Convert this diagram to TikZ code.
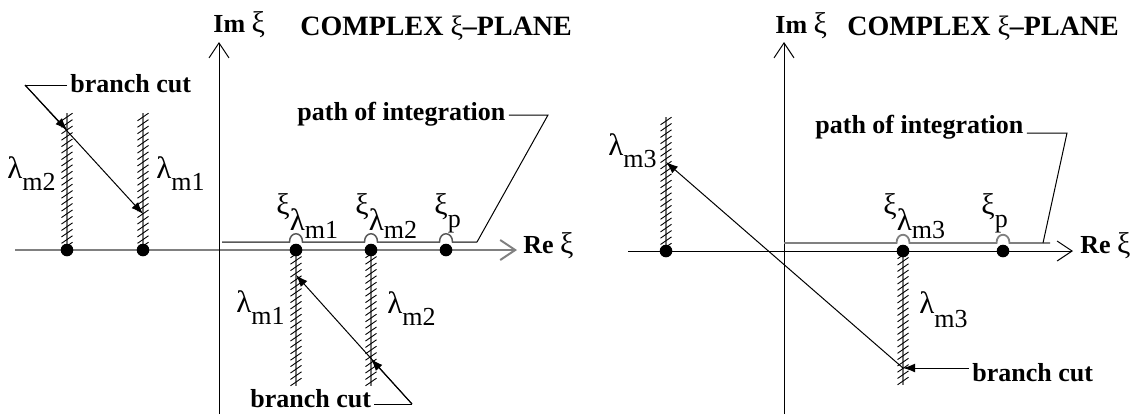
\documentclass[tikz,border=0pt]{standalone}
\usepackage{fontspec}
\setmainfont{Liberation Serif}
\usetikzlibrary{arrows.meta}
\newcommand{\biglam}{{\fontsize{15.5}{17}\selectfont λ}}
\newcommand{\bigxi}{{\fontsize{15}{17}\selectfont ξ}}

\begin{document}
\begin{tikzpicture}[x=0.5pt, y=-0.5pt, font=\fontsize{13}{15}\selectfont,
  axis/.style={line width=0.5pt, -{Straight Barb[length=7.5pt,width=10pt]}},
  dot/.style={circle, fill, inner sep=0pt, minimum size=6.3pt},
  lead/.style={line width=0.5pt},
  pointer/.style={line width=0.5pt, -{Latex[length=6pt,width=4.4pt]}},
  cutline/.style={black!55, line width=0.6pt},
  hatch/.style={line width=0.45pt},
  intpath/.style={black!65, line width=0.75pt},
  lbl/.style={font=\fontsize{13}{15}\selectfont\bfseries, inner xsep=1.5pt, inner ysep=0pt},
  title/.style={font=\fontsize{14}{16}\selectfont\bfseries, inner sep=0pt},
  sym/.style={inner sep=0pt}]
  \useasboundingbox (0,0) rectangle (1135,414);

  % left plane: axes and titles
  \node[title, anchor=base west] (ttlA) at (300,35) {COMPLEX {\mdseries ξ}–PLANE};
  \node[sym, anchor=base west] (imA) at (213,32) {\textbf{Im} \bigxi};
  \node[sym, anchor=base west] (reA) at (523,253) {\textbf{Re} \bigxi};
  \coordinate (reA0) at (15,250); \coordinate (imA0) at (219,414); \coordinate (imA1) at (219,42);
  \draw[axis, black!50, line width=1pt] (reA0) -- ([xshift=-3pt]reA0 -| reA.west);
  \draw[axis] (imA0) -- (imA1);

  % right plane: axes and titles
  \node[title, anchor=base west] (ttlB) at (847,35) {COMPLEX {\mdseries ξ}–PLANE};
  \node[sym, anchor=base west] (imB) at (775,33) {\textbf{Im} \bigxi};
  \node[sym, anchor=base west] (reB) at (1080,253) {\textbf{Re} \bigxi};
  \coordinate (reB0) at (628,251); \coordinate (imB0) at (784,414); \coordinate (imB1) at (784,42);
  \draw[axis] (reB0) -- ([xshift=-3.5pt]reB0 -| reB.west);
  \draw[axis] (imB0) -- (imB1);

  % hatched branch cuts
  \foreach \cx/\ca/\cb in {67/113/250, 143/113/250, 296/250/386, 371/250/386, 666/117/251, 903/251/385} {
    \draw[cutline] (\cx,\ca) -- (\cx,\cb);
    \foreach \k in {0,...,20}
      \draw[hatch] ({\cx-5.5},{\ca+4+\k*(\cb-\ca-8)/20+3.8}) -- ({\cx+5.5},{\ca+4+\k*(\cb-\ca-8)/20-3.8});
  }

  % branch points and poles
  \foreach \n/\px in {l1/67, l2/143, l3/296, l4/371, l5/446} \node[dot] (\n) at (\px,250) {};
  \foreach \n/\px in {r1/666, r2/903, r3/1003} \node[dot] (\n) at (\px,251) {};

  % paths of integration with indentations
  \coordinate (eA) at (477,242); \coordinate (eB) at (1050,243);
  \draw[intpath] (222,242) \foreach \bx in {296,371,446} {
    -- (\bx-6.5,242) .. controls (\bx-6.5,231) and (\bx+6.5,231) .. (\bx+6.5,242) } -- (eA);
  \draw[intpath, black!50, line width=0.9pt] (784,243) \foreach \bx in {903,1003} {
    -- (\bx-6.5,243) .. controls (\bx-6.5,232) and (\bx+6.5,232) .. (\bx+6.5,243) } -- (eB);

  % labels on the real axis
  \node[sym, anchor=base west] (xiA1) at (276,214) {\bigxi\raisebox{-8pt}{\biglam\raisebox{-4pt}{m1}}};
  \node[sym, anchor=base west] (xiA2) at (355,214) {\bigxi\raisebox{-8pt}{\biglam\raisebox{-4pt}{m2}}};
  \node[sym, anchor=base west] (xiAp) at (434,214) {\bigxi\raisebox{-6.5pt}{p}};
  \node[sym, anchor=base west] (xiB3) at (883,214) {\bigxi\raisebox{-8pt}{\biglam\raisebox{-4pt}{m3}}};
  \node[sym, anchor=base west] (xiBp) at (981,214) {\bigxi\raisebox{-6.5pt}{p}};

  % labels of the cuts
  \node[sym, anchor=base west] (lamA2) at (7,178) {\biglam\raisebox{-6pt}{m2}};
  \node[sym, anchor=base west] (lamA1) at (156,178) {\biglam\raisebox{-6pt}{m1}};
  \node[sym, anchor=base west] (lamB1) at (236,312) {\biglam\raisebox{-6pt}{m1}};
  \node[sym, anchor=base west] (lamB2) at (387,313) {\biglam\raisebox{-6pt}{m2}};
  \node[sym, anchor=base east] (lamC3) at (657,155) {\biglam\raisebox{-6pt}{m3}};
  \node[sym, anchor=base west] (lamD3) at (919,313) {\biglam\raisebox{-7pt}{m3}};

  % branch cut callouts
  \node[lbl, anchor=base west] (bcA) at (67,92) {branch cut};
  \coordinate (kA) at (25,85); \coordinate (tA1) at (67,130); \coordinate (tA2) at (143,214);
  \draw[lead] (bcA.west |- kA) -- (kA);
  \draw[pointer] (kA) -- (tA1);
  \draw[pointer] (kA) -- (tA2);

  \node[lbl, anchor=base west] (bcB) at (247,407) {branch cut};
  \coordinate (kB) at (412,404); \coordinate (tB1) at (296,275); \coordinate (tB2) at (371,359);
  \draw[lead] (bcB.east |- kB) -- (kB);
  \draw[pointer] (kB) -- (tB1);
  \draw[pointer] (kB) -- (tB2);

  \node[lbl, anchor=base west] (bcC) at (969,381) {branch cut};
  \coordinate (tC) at (903,368); \coordinate (tC2) at (666,162);
  \draw[pointer] (bcC.west |- tC) -- (tC);
  \draw[pointer] (tC) -- (tC2);

  % path of integration callouts
  \node[lbl, anchor=base west] (pathA) at (294,120) {path of integration};
  \coordinate (kP1) at (548,115);
  \draw[lead] (pathA.east |- kP1) -- (kP1) -- (eA);
  \node[lbl, anchor=base west] (pathB) at (812,133) {path of integration};
  \coordinate (kP2) at (1067,133);
  \draw[lead] (pathB.east |- kP2) -- (kP2) -- ([xshift=-3.5pt]eB);
\end{tikzpicture}
\end{document}
